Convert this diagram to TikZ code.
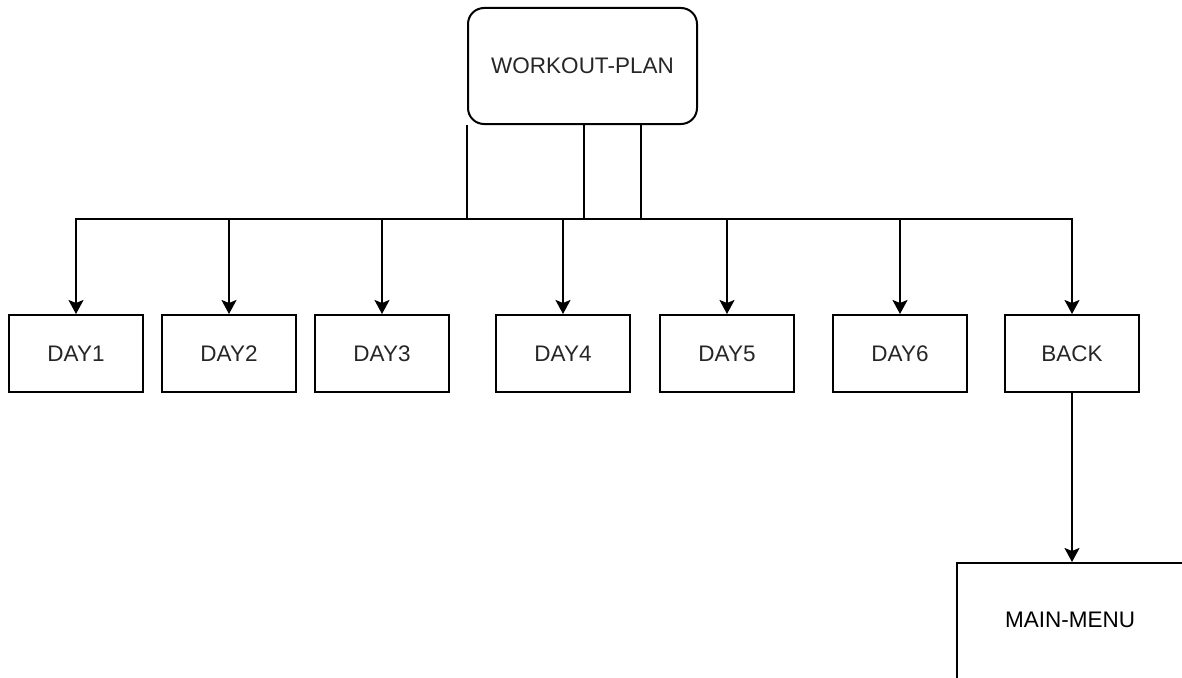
\documentclass[tikz,border=0pt]{standalone}
\usepackage{fontspec}
\setmainfont{Liberation Sans}
\usetikzlibrary{arrows.meta}
\tikzset{
  box/.style={draw, line width=2pt, rectangle, inner sep=0pt, text=black!85,
    minimum width=134pt, minimum height=77pt},
  link/.style={line width=2pt, -{Stealth[length=14pt, width=15pt, inset=3pt]}}
}
\begin{document}
\begin{tikzpicture}[x=1pt, y=-1pt, font=\fontsize{22.5}{26}\selectfont]
\useasboundingbox (0,0) rectangle (1182,677);
\clip (0,0) rectangle (1182,677);
\pgfmathsetmacro{\dy}{353.5}
\node[box, rounded corners=16pt, minimum width=229pt, minimum height=116pt] (plan) at (582.5,66) {WORKOUT-PLAN};
\node[box] (day1) at (76,\dy) {DAY1};
\node[box] (day2) at (229,\dy) {DAY2};
\node[box] (day3) at (382,\dy) {DAY3};
\node[box] (day4) at (563,\dy) {DAY4};
\node[box] (day5) at (727,\dy) {DAY5};
\node[box] (day6) at (900,\dy) {DAY6};
\node[box] (back) at (1072,\dy) {BACK};
\node[box, minimum width=250pt, minimum height=124pt] (menu) at (1082,625) {};
\node (menutext) at (1070,620) {MAIN-MENU};
\coordinate (bus) at (0,219);
\coordinate (exitl) at (plan.south west);
\coordinate (exitm) at ([xshift=1.5pt]plan.south);
\coordinate (exitr) at ([xshift=58.5pt]plan.south);
\draw[link] (exitl) |- (bus -| day1) -- (day1);
\draw[link] (exitl) |- (bus -| day2) -- (day2);
\draw[link] (exitl) |- (bus -| day3) -- (day3);
\draw[link] (exitm) |- (bus -| day4) -- (day4);
\draw[link] (exitl) |- (bus -| day5) -- (day5);
\draw[link] (exitr) |- (bus -| day6) -- (day6);
\draw[link] (exitr) |- (bus -| back) -- (back);
\draw[link] (back) -- (back |- menu.north);
\end{tikzpicture}
\end{document}
